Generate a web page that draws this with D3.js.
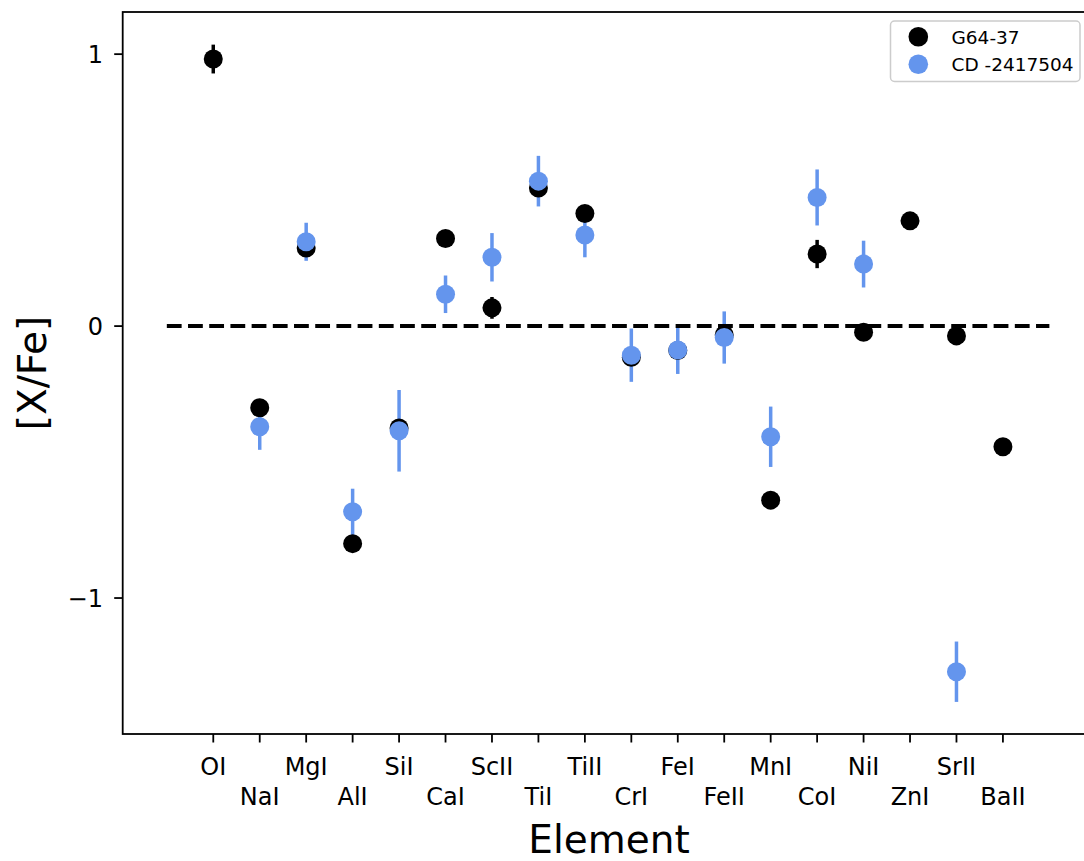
<!DOCTYPE html>
<html>
<head>
<meta charset="utf-8">
<script src="https://cdn.jsdelivr.net/npm/d3@7"></script>
<style>
  html, body { margin: 0; padding: 0; background: #fff; }
  svg { display: block; }
  text { font-family: "DejaVu Sans", sans-serif; fill: #000; }
</style>
</head>
<body>
<svg id="chart" width="1084" height="861"></svg>
<script>
// ---- data ----
const elements = ["OI","NaI","MgI","AlI","SiI","CaI","ScII","TiI","TiII","CrI","FeI","FeII","MnI","CoI","NiI","ZnI","SrII","BaII"];
const g6437Values = [0.982,-0.30,0.287,-0.80,-0.375,0.322,0.067,0.508,0.414,-0.115,-0.09,-0.033,-0.64,0.265,-0.023,0.387,-0.036,-0.444];
const g6437Errors = [0.053,0.02,0.02,0.02,0.02,0.02,0.04,0.02,0.02,0.02,0.02,0.02,0.02,0.052,0.02,0.02,0.02,0.02];
const cdValues = [null,-0.37,0.31,-0.683,-0.385,0.117,0.253,0.533,0.335,-0.107,-0.088,-0.042,-0.407,0.473,0.228,null,-1.271,null];
const cdErrors = [null,0.085,0.07,0.085,0.15,0.069,0.089,0.093,0.082,0.098,0.088,0.096,0.111,0.103,0.086,null,0.111,null];
const seriesNames = ["G64-37","CD -2417504"];
const seriesColors = ["#000000","#6495ED"];
const yTicks = [-1, 0, 1];
const refLine = { x0: 0, x1: 19, y: 0 };

// ---- layout ----
const svg = d3.select("#chart");
const x = d3.scaleLinear().domain([-0.95, 19.95]).range([122.7, 1093.5]);
const y = d3.scaleLinear().domain([-1.50, 1.155]).range([734, 12]);

const series = [
  { name: seriesNames[0], color: seriesColors[0],
    pts: elements.map((e,i)=>({i:i+1, v:g6437Values[i], err:g6437Errors[i]})).filter(d=>d.v!==null) },
  { name: seriesNames[1], color: seriesColors[1],
    pts: elements.map((e,i)=>({i:i+1, v:cdValues[i], err:cdErrors[i]})).filter(d=>d.v!==null) }
];

const plot = svg.append("g");

// error bars first
series.forEach(s => {
  plot.append("g").selectAll("line").data(s.pts).join("line")
    .attr("x1", d=>x(d.i)).attr("x2", d=>x(d.i))
    .attr("y1", d=>y(d.v - d.err)).attr("y2", d=>y(d.v + d.err))
    .attr("stroke", s.color).attr("stroke-width", 3.5);
});
// markers
series.forEach(s => {
  plot.append("g").selectAll("circle").data(s.pts).join("circle")
    .attr("cx", d=>x(d.i)).attr("cy", d=>y(d.v)).attr("r", 9.5)
    .attr("fill", s.color);
});

// dashed reference line
plot.append("line")
  .attr("x1", x(refLine.x0)).attr("x2", x(refLine.x1))
  .attr("y1", y(refLine.y)).attr("y2", y(refLine.y))
  .attr("stroke", "#000").attr("stroke-width", 4)
  .attr("stroke-dasharray", "14.8,6.4");

// spines
const [xl, xr] = x.range();
const [yb, yt] = y.range();
svg.append("rect").attr("x", xl).attr("y", yt).attr("width", xr-xl).attr("height", yb-yt)
  .attr("fill", "none").attr("stroke", "#000").attr("stroke-width", 1.8);

// x ticks
const xt = svg.append("g");
elements.forEach((e, k) => {
  const px = x(k+1);
  xt.append("line").attr("x1", px).attr("x2", px).attr("y1", yb).attr("y2", yb+8.5)
    .attr("stroke", "#000").attr("stroke-width", 1.8);
  xt.append("text").attr("x", px).attr("y", k % 2 === 0 ? 775 : 805)
    .attr("text-anchor", "middle").attr("font-size", 24).text(e);
});

// y ticks
const ytg = svg.append("g");
yTicks.forEach(t => {
  const py = y(t);
  ytg.append("line").attr("x1", xl-8.5).attr("x2", xl).attr("y1", py).attr("y2", py)
    .attr("stroke", "#000").attr("stroke-width", 1.8);
  ytg.append("text").attr("x", 103).attr("y", py + 8.6)
    .attr("text-anchor", "end").attr("font-size", 24)
    .text(t < 0 ? "\u2212" + Math.abs(t) : String(t));
});

// axis labels
svg.append("text").attr("x", 609).attr("y", 852.5).attr("text-anchor", "middle")
  .attr("font-size", 39).text("Element");
svg.append("text").attr("transform", "translate(46,373) rotate(-90)")
  .attr("text-anchor", "middle").attr("font-size", 39).text("[X/Fe]");

// legend
const lg = svg.append("g");
lg.append("rect").attr("x", 890.5).attr("y", 21).attr("width", 189.5).attr("height", 60.5)
  .attr("rx", 4).attr("fill", "#fff").attr("stroke", "#cccccc").attr("stroke-width", 1.5);
series.forEach((s, k) => {
  const cy = 36.7 + k * 27.6;
  lg.append("circle").attr("cx", 918.3).attr("cy", cy).attr("r", 9.8).attr("fill", s.color);
  lg.append("text").attr("x", 951.5).attr("y", cy + 6.8).attr("font-size", 18.5).text(s.name);
});
</script>
</body>
</html>
